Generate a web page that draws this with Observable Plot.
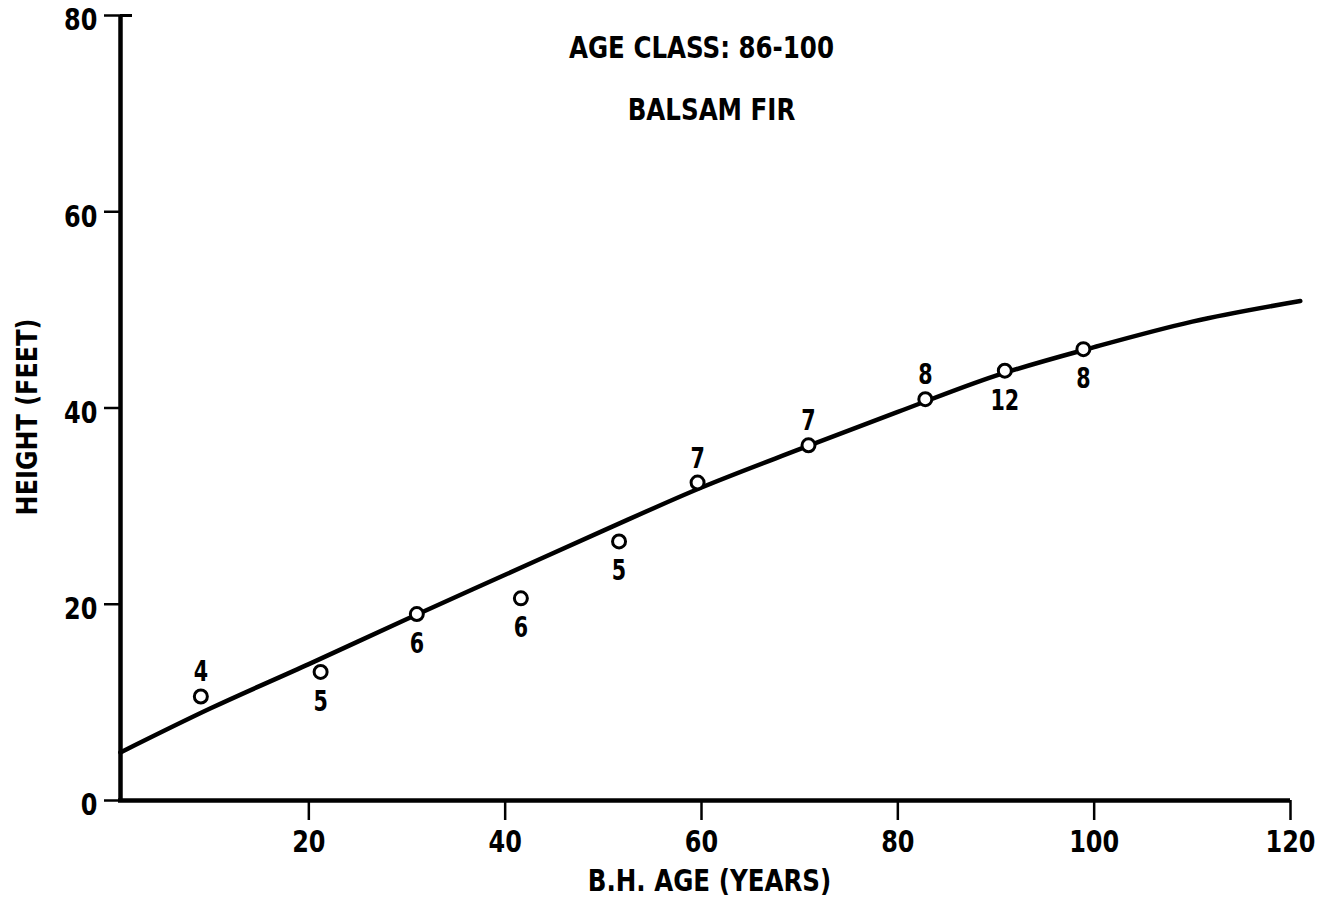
<!DOCTYPE html>
<html>
<head>
<meta charset="utf-8">
<script src="https://cdn.jsdelivr.net/npm/d3@7"></script>
<script src="https://cdn.jsdelivr.net/npm/@observablehq/plot@0.6"></script>
<style>
  html, body { margin: 0; padding: 0; background: #fff; }
  #chart svg { display: block; }
</style>
</head>
<body>
<div id="chart"></div>
<script>
// Balsam fir, age class 86-100: mean height by breast-height age, with sample counts
const ages    = [9, 21.2, 31, 41.6, 51.6, 59.6, 70.9, 82.8, 90.9, 98.9];
const heights = [10.6, 13.1, 19.0, 20.6, 26.4, 32.4, 36.2, 40.9, 43.8, 46.0];
const counts  = [4, 5, 6, 6, 5, 7, 7, 8, 12, 8];
// which side of its circle each count is printed on
const countSide = ["above", "below", "below", "below", "below", "above", "above", "above", "below", "below"];

// fitted height-age curve
const curveAges    = [0.8, 10, 20, 30, 40, 50, 60, 70, 80, 90, 100, 110, 121];
const curveHeights = [4.9, 9.4, 13.9, 18.5, 23.0, 27.5, 31.9, 35.8, 39.6, 43.3, 46.2, 48.8, 50.9];

const xTicks = [20, 40, 60, 80, 100, 120];
const yTicks = [0, 20, 40, 60, 80];

const titleLines = ["AGE CLASS: 86-100", "BALSAM FIR"];
const xLabel = "B.H. AGE (YEARS)";
const yLabel = "HEIGHT (FEET)";

const points = ages.map((a, i) => ({age: a, height: heights[i], n: counts[i], side: countSide[i]}));
const curve = curveAges.map((a, i) => ({age: a, height: curveHeights[i]}));

const FONT = "'DejaVu Sans', sans-serif";
const AXIS_SHIFT = 8; // y axis line sits slightly right of age 0

const chart = Plot.plot({
  width: 1320,
  height: 901,
  marginLeft: 112,
  marginRight: 30,
  marginTop: 15,
  marginBottom: 101,
  x: {domain: [0, 120]},
  y: {domain: [0, 80]},
  style: {
    fontFamily: FONT,
    fontWeight: "bold",
    fontStretch: "condensed",
    color: "#000",
    background: "#fff"
  },
  marks: [
    // axes
    Plot.axisX({
      ticks: xTicks, tickSize: 20, tickPadding: 9, strokeWidth: 2.5,
      fontSize: 31, label: null
    }),
    Plot.axisY({
      ticks: yTicks, tickSize: 16, tickPadding: 7, strokeWidth: 2.5,
      dx: AXIS_SHIFT, fontSize: 31, label: null
    }),
    // cap on the top of the height axis
    Plot.axisY({
      ticks: [yTicks[yTicks.length - 1]], tickSize: -12, strokeWidth: 3,
      dx: AXIS_SHIFT, tickFormat: () => "", label: null
    }),
    Plot.ruleY([0], {insetLeft: AXIS_SHIFT - 2, strokeWidth: 4.5}),
    Plot.ruleX([0], {y1: 0, y2: 80, dx: AXIS_SHIFT, strokeWidth: 4.5}),

    // fitted curve
    Plot.line(curve, {x: "age", y: "height", curve: "monotone-x", strokeWidth: 4.5, strokeLinecap: "round"}),

    // observed means
    Plot.dot(points, {x: "age", y: "height", r: 6.5, fill: "#fff", stroke: "#000", strokeWidth: 3}),
    Plot.text(points.filter(d => d.side === "above"), {
      x: "age", y: "height", text: "n", dy: -24, fontSize: 28, lineAnchor: "middle"
    }),
    Plot.text(points.filter(d => d.side === "below"), {
      x: "age", y: "height", text: "n", dy: 30, fontSize: 28, lineAnchor: "middle"
    }),

    // headings inside the frame
    Plot.text([titleLines[0]], {frameAnchor: "top", text: d => d, dy: 33, fontSize: 31, lineAnchor: "middle"}),
    Plot.text([titleLines[1]], {frameAnchor: "top", text: d => d, dx: 10, dy: 95, fontSize: 31, lineAnchor: "middle"}),

    // axis titles
    Plot.text([xLabel], {frameAnchor: "bottom", text: d => d, dx: 8, dy: 81, fontSize: 30, lineAnchor: "middle"}),
    Plot.text([yLabel], {frameAnchor: "left", text: d => d, dx: -84, dy: 9, rotate: -90, fontSize: 28,
      textAnchor: "middle", lineAnchor: "middle"})
  ]
});

// narrow the lettering a little further, scaling each text about its own anchor point
function squeeze(t, k, shiftY = 0) {
  const tr = t.getAttribute("transform") || "";
  const x = +t.getAttribute("x") || 0;
  const y = +t.getAttribute("y") || 0;
  t.setAttribute("transform", `${tr} translate(${x},${y + shiftY}) scale(${k},1) translate(${-x},${-y})`);
}
chart.querySelectorAll("text").forEach(t => {
  const group = t.closest("g");
  const role = group ? group.getAttribute("aria-label") || "" : "";
  const s = t.textContent;
  if (s === "") return;
  if (role === "x-axis tick label") squeeze(t, 0.86);
  else if (role === "y-axis tick label") squeeze(t, 0.86, 5);
  else if (titleLines.includes(s)) squeeze(t, 0.88);
  else if (s === xLabel) squeeze(t, 0.91);
  else if (s === yLabel) squeeze(t, 0.95);
  else squeeze(t, 0.82);
});

document.getElementById("chart").appendChild(chart);
</script>
</body>
</html>
